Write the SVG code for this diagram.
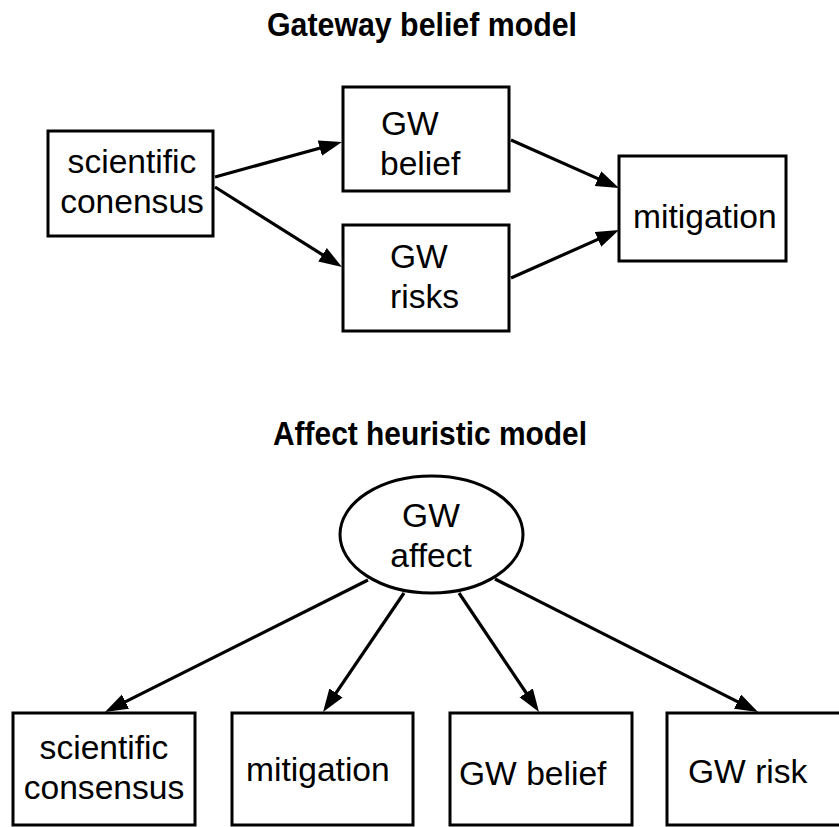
<svg xmlns="http://www.w3.org/2000/svg" width="839" height="827" viewBox="0 0 839 827">
<style>
.bg{fill:#ffffff}
.box{fill:#ffffff;stroke:#000;stroke-width:3}
.t{font-family:"Liberation Sans",Arial,sans-serif;font-size:33.6px;fill:#000}
.title{font-family:"Liberation Sans",Arial,sans-serif;font-size:33px;font-weight:bold;fill:#000}
.c{text-anchor:middle}
.edge{stroke:#000;stroke-width:3.2;fill:none;marker-end:url(#arr)}
</style>
<defs>
<marker id="arr" markerUnits="userSpaceOnUse" markerWidth="26" markerHeight="18" refX="11" refY="8" orient="auto" viewBox="0 0 26 18">
<path d="M0,0 L23,8 L0,16 z" fill="#000"/>
</marker>
</defs>
<rect class="bg" x="0" y="0" width="839" height="827"/>
<text class="title" x="267" y="36" textLength="310" lengthAdjust="spacingAndGlyphs">Gateway belief model</text>
<text class="title" x="273" y="445" textLength="314" lengthAdjust="spacingAndGlyphs">Affect heuristic model</text>
<g id="connectors">
<line class="edge" x1="215" y1="177" x2="330.4" y2="145.2"/>
<line class="edge" x1="215" y1="187" x2="331.8" y2="260.6"/>
<line class="edge" x1="511" y1="140" x2="608" y2="183.1"/>
<line class="edge" x1="511" y1="278" x2="608" y2="234.9"/>
<line class="edge" x1="368" y1="580" x2="115.7" y2="706.6"/>
<line class="edge" x1="404" y1="593" x2="329.8" y2="702.1"/>
<line class="edge" x1="459" y1="593" x2="532.3" y2="702"/>
<line class="edge" x1="495" y1="579" x2="747.3" y2="706.6"/>
</g>
<g id="gb-consensus">
<rect class="box" x="48" y="131" width="165" height="105"/>
<text class="t c" x="132" y="173">scientific</text>
<text class="t c" x="132" y="213">conensus</text>
</g>
<g id="gb-belief">
<rect class="box" x="343" y="87" width="166" height="104"/>
<text class="t" x="381" y="135">GW</text>
<text class="t" x="380" y="175">belief</text>
</g>
<g id="gb-risks">
<rect class="box" x="343" y="225" width="166" height="106"/>
<text class="t" x="390" y="268">GW</text>
<text class="t" x="390" y="308">risks</text>
</g>
<g id="gb-mitigation">
<rect class="box" x="619" y="156" width="167" height="105"/>
<text class="t" x="633" y="228">mitigation</text>
</g>
<g id="ah-affect">
<ellipse class="box" cx="431.5" cy="534.5" rx="91.5" ry="58.5"/>
<text class="t c" x="431" y="527">GW</text>
<text class="t c" x="431" y="567">affect</text>
</g>
<g id="ah-consensus">
<rect class="box" x="13" y="713" width="182" height="112"/>
<text class="t c" x="104" y="759">scientific</text>
<text class="t c" x="104" y="799">consensus</text>
</g>
<g id="ah-mitigation">
<rect class="box" x="232" y="713" width="181" height="112"/>
<text class="t" x="246" y="781">mitigation</text>
</g>
<g id="ah-belief">
<rect class="box" x="450" y="713" width="182" height="112"/>
<text class="t" x="459" y="785">GW belief</text>
</g>
<g id="ah-risk">
<rect class="box" x="667" y="713" width="182" height="112"/>
<text class="t" x="688" y="783">GW risk</text>
</g>
</svg>
